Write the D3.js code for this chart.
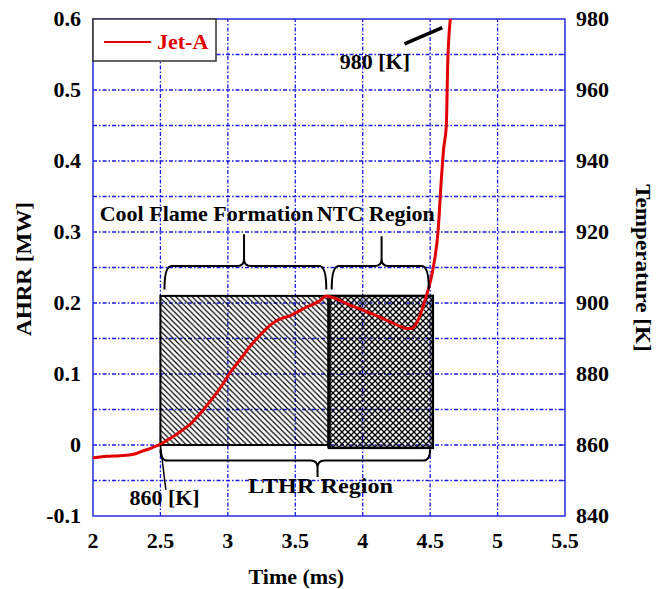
<!DOCTYPE html>
<html>
<head>
<meta charset="utf-8">
<script src="https://cdn.jsdelivr.net/npm/d3@7/dist/d3.min.js"></script>
<style>
  body { margin: 0; background: #fff; }
  text { font-family: "Liberation Serif", "Times New Roman", serif; font-weight: bold; }
</style>
</head>
<body>
<div id="chart"></div>
<script>
// AHRR trace for Jet-A (time in ms, AHRR in MW)
var timeMs = [2.00, 2.05, 2.10, 2.20, 2.30, 2.36, 2.41, 2.46, 2.50, 2.56, 2.62, 2.67, 2.72, 2.77, 2.82, 2.87,
  2.92, 2.97, 3.01, 3.06, 3.11, 3.16, 3.21, 3.26, 3.31, 3.36, 3.41, 3.46, 3.53, 3.58, 3.63, 3.68, 3.73,
  3.79, 3.85, 3.92, 4.00, 4.08, 4.15, 4.22, 4.28, 4.32, 4.36, 4.39, 4.42, 4.45, 4.48, 4.52, 4.56, 4.58,
  4.60, 4.62, 4.63, 4.65];
var ahrr = [-0.018, -0.017, -0.016, -0.015, -0.013, -0.009, -0.006, -0.002, 0.001, 0.008, 0.015, 0.022,
  0.029, 0.039, 0.050, 0.062, 0.074, 0.088, 0.100, 0.113, 0.125, 0.138, 0.149, 0.159, 0.168, 0.175,
  0.179, 0.182, 0.189, 0.194, 0.198, 0.203, 0.210, 0.207, 0.202, 0.196, 0.190, 0.184, 0.178, 0.172,
  0.167, 0.164, 0.164, 0.169, 0.180, 0.197, 0.215, 0.247, 0.304, 0.365, 0.417, 0.450, 0.534, 0.600];

// Axis ticks
var xTicks = [2, 2.5, 3, 3.5, 4, 4.5, 5, 5.5];
var yTicks = [-0.1, 0, 0.1, 0.2, 0.3, 0.4, 0.5, 0.6];
var tempTicks = [840, 860, 880, 900, 920, 940, 960, 980];
var hGrid = [-0.05, 0, 0.05, 0.1, 0.15, 0.2, 0.25, 0.3, 0.35, 0.4, 0.45, 0.5, 0.55];
var vGrid = [2.5, 3, 3.5, 4, 4.5, 5];

// Shaded regions [start, end, bottom, top]
var coolFlame = [2.5, 3.75, 0, 0.21];
var ntcRegion = [3.75, 4.52, -0.004, 0.21];

// Braces [x1, x2, xCusp, yTip, yLine, yCusp]
var coolBrace = [2.53, 3.73, 3.12, 0.219, 0.252, 0.297];
var ntcBrace = [3.77, 4.49, 4.14, 0.219, 0.252, 0.294];
var lthrBrace = [2.5, 4.5, 3.665, -0.006, -0.022, -0.045];

var width = 656, height = 589;
var margin = {left: 93, right: 91, top: 19, bottom: 73};
var stretch = 1.1; // glyphs in the original are a little wide

var svg = d3.select("#chart").append("svg")
  .attr("width", width)
  .attr("height", height);

var x = d3.scaleLinear().domain([2, 5.5]).range([margin.left, width - margin.right]);
var y = d3.scaleLinear().domain([-0.1, 0.6]).range([height - margin.bottom, margin.top]);
var yT = d3.scaleLinear().domain([840, 980]).range([height - margin.bottom, margin.top]);

// text helper: position, rotation, anchor, with horizontal stretch
function label(g, str, px, py, size, anchor, rot, color) {
  return g.append("text")
    .attr("transform", "translate(" + px + "," + py + ") rotate(" + (rot || 0) + ") scale(" + stretch + ",1)")
    .attr("text-anchor", anchor || "start")
    .attr("font-size", size + "px")
    .attr("fill", color || "#000")
    .text(str);
}

// Patterns for the hatched regions
var defs = svg.append("defs");
var p1 = defs.append("pattern").attr("id", "diag")
  .attr("patternUnits", "userSpaceOnUse").attr("width", 5.5).attr("height", 5.5);
p1.append("path").attr("d", "M-1,-1 L6.5,6.5 M-1,4.5 L1,6.5 M4.5,-1 L6.5,1")
  .attr("stroke", "#000").attr("stroke-width", 1.2);
var p2 = defs.append("pattern").attr("id", "cross")
  .attr("patternUnits", "userSpaceOnUse").attr("width", 6).attr("height", 6);
p2.append("path").attr("d", "M0,0 L6,6 M6,0 L0,6")
  .attr("stroke", "#000").attr("stroke-width", 1.3);

// Grid
var gridColor = "#1a1ae0";
svg.append("g").selectAll("line").data(hGrid).enter().append("line")
  .attr("x1", x(2)).attr("x2", x(5.5))
  .attr("y1", d => y(d)).attr("y2", d => y(d))
  .attr("stroke", gridColor).attr("stroke-width", 1.3)
  .attr("stroke-dasharray", "4,2,1.5,2");
svg.append("g").selectAll("line").data(vGrid).enter().append("line")
  .attr("x1", d => x(d)).attr("x2", d => x(d))
  .attr("y1", y(-0.1)).attr("y2", y(0.6))
  .attr("stroke", gridColor).attr("stroke-width", 1.3)
  .attr("stroke-dasharray", "4,2,1.5,2");

// Regions
svg.append("rect")
  .attr("x", x(coolFlame[0])).attr("y", y(coolFlame[3]))
  .attr("width", x(coolFlame[1]) - x(coolFlame[0]))
  .attr("height", y(coolFlame[2]) - y(coolFlame[3]))
  .attr("fill", "url(#diag)").attr("stroke", "#000").attr("stroke-width", 2);
svg.append("rect")
  .attr("x", x(ntcRegion[0])).attr("y", y(ntcRegion[3]))
  .attr("width", x(ntcRegion[1]) - x(ntcRegion[0]))
  .attr("height", y(ntcRegion[2]) - y(ntcRegion[3]))
  .attr("fill", "url(#cross)").attr("stroke", "#000").attr("stroke-width", 2.5);
svg.append("line")
  .attr("x1", x(ntcRegion[0])).attr("x2", x(ntcRegion[0]))
  .attr("y1", y(ntcRegion[3])).attr("y2", y(ntcRegion[2]))
  .attr("stroke", "#000").attr("stroke-width", 3.5);

// Frame
svg.append("rect")
  .attr("x", x(2)).attr("y", y(0.6))
  .attr("width", x(5.5) - x(2)).attr("height", y(-0.1) - y(0.6))
  .attr("fill", "none").attr("stroke", "#2a2ad8").attr("stroke-width", 1.5);

// Right axis minor ticks (every 10 K)
svg.append("g").selectAll("line").data(d3.range(850, 980, 10)).enter().append("line")
  .attr("x1", x(5.5) - 5).attr("x2", x(5.5))
  .attr("y1", d => yT(d)).attr("y2", d => yT(d))
  .attr("stroke", "#2a2ad8").attr("stroke-width", 1.2);

// Curve
var line = d3.line()
  .x((d, i) => x(timeMs[i]))
  .y(d => y(d))
  .curve(d3.curveMonotoneX);
svg.append("path").datum(ahrr)
  .attr("d", line)
  .attr("fill", "none").attr("stroke", "#e00000").attr("stroke-width", 3);

// Braces
function brace(b, dir) {
  var x1 = x(b[0]), x2 = x(b[1]), xm = x(b[2]);
  var yt = y(b[3]), yl = y(b[4]), yc = y(b[5]);
  var r = 7;
  var s = dir;
  return "M" + x1 + "," + yt + " Q" + x1 + "," + yl + " " + (x1 + r) + "," + yl +
    " L" + (xm - r) + "," + yl + " Q" + xm + "," + yl + " " + xm + "," + (yl - s * r) +
    " L" + xm + "," + yc +
    " M" + x2 + "," + yt + " Q" + x2 + "," + yl + " " + (x2 - r) + "," + yl +
    " L" + (xm + r) + "," + yl + " Q" + xm + "," + yl + " " + xm + "," + (yl - s * r);
}
[[coolBrace, 1], [ntcBrace, 1], [lthrBrace, -1]].forEach(function(b) {
  svg.append("path").attr("d", brace(b[0], b[1]))
    .attr("fill", "none").attr("stroke", "#000").attr("stroke-width", 2);
});

// Leader lines
svg.append("line")
  .attr("x1", x(2.5)).attr("y1", y(0))
  .attr("x2", x(2.54)).attr("y2", y(-0.063))
  .attr("stroke", "#000").attr("stroke-width", 1.5);
svg.append("line")
  .attr("x1", x(4.31)).attr("y1", y(0.565))
  .attr("x2", x(4.59)).attr("y2", y(0.588))
  .attr("stroke", "#000").attr("stroke-width", 3.5);

// Annotation texts
var notes = [
  {t: "Cool Flame Formation", x: 2.05, y: 0.315, s: 20},
  {t: "NTC Region", x: 3.66, y: 0.315, s: 20},
  {t: "LTHR Region", x: 3.15, y: -0.067, s: 22},
  {t: "860 [K]", x: 2.27, y: -0.084, s: 20},
  {t: "980 [K]", x: 3.83, y: 0.529, s: 20}
];
var ng = svg.append("g");
notes.forEach(function(d) { label(ng, d.t, x(d.x), y(d.y), d.s); });

// Tick labels
var tg = svg.append("g");
yTicks.forEach(function(d) { label(tg, String(+d.toFixed(1)), x(2) - 12, y(d) + 7, 20, "end"); });
tempTicks.forEach(function(d) { label(tg, String(d), x(5.5) + 11, yT(d) + 7, 20, "start"); });
xTicks.forEach(function(d) { label(tg, String(d), x(d), y(-0.1) + 32, 20, "middle"); });

// Axis titles
label(svg, "Time (ms)", x(3.5) + 1, 584, 20, "middle");
label(svg, "AHRR [MW]", 31, 269, 21, "middle", -90);
label(svg, "Temperature [K]", 636, 268, 21, "middle", 90);

// Legend
var leg = svg.append("g");
leg.append("rect")
  .attr("x", x(2)).attr("y", y(0.6))
  .attr("width", 123).attr("height", 42)
  .attr("fill", "#fff").attr("stroke", "#333").attr("stroke-width", 1.5);
leg.append("line")
  .attr("x1", x(2) + 11).attr("x2", x(2) + 58)
  .attr("y1", y(0.6) + 23).attr("y2", y(0.6) + 23)
  .attr("stroke", "#e00000").attr("stroke-width", 2);
label(leg, "Jet-A", x(2) + 64, y(0.6) + 30, 20, "start", 0, "#e00000");
</script>
</body>
</html>
